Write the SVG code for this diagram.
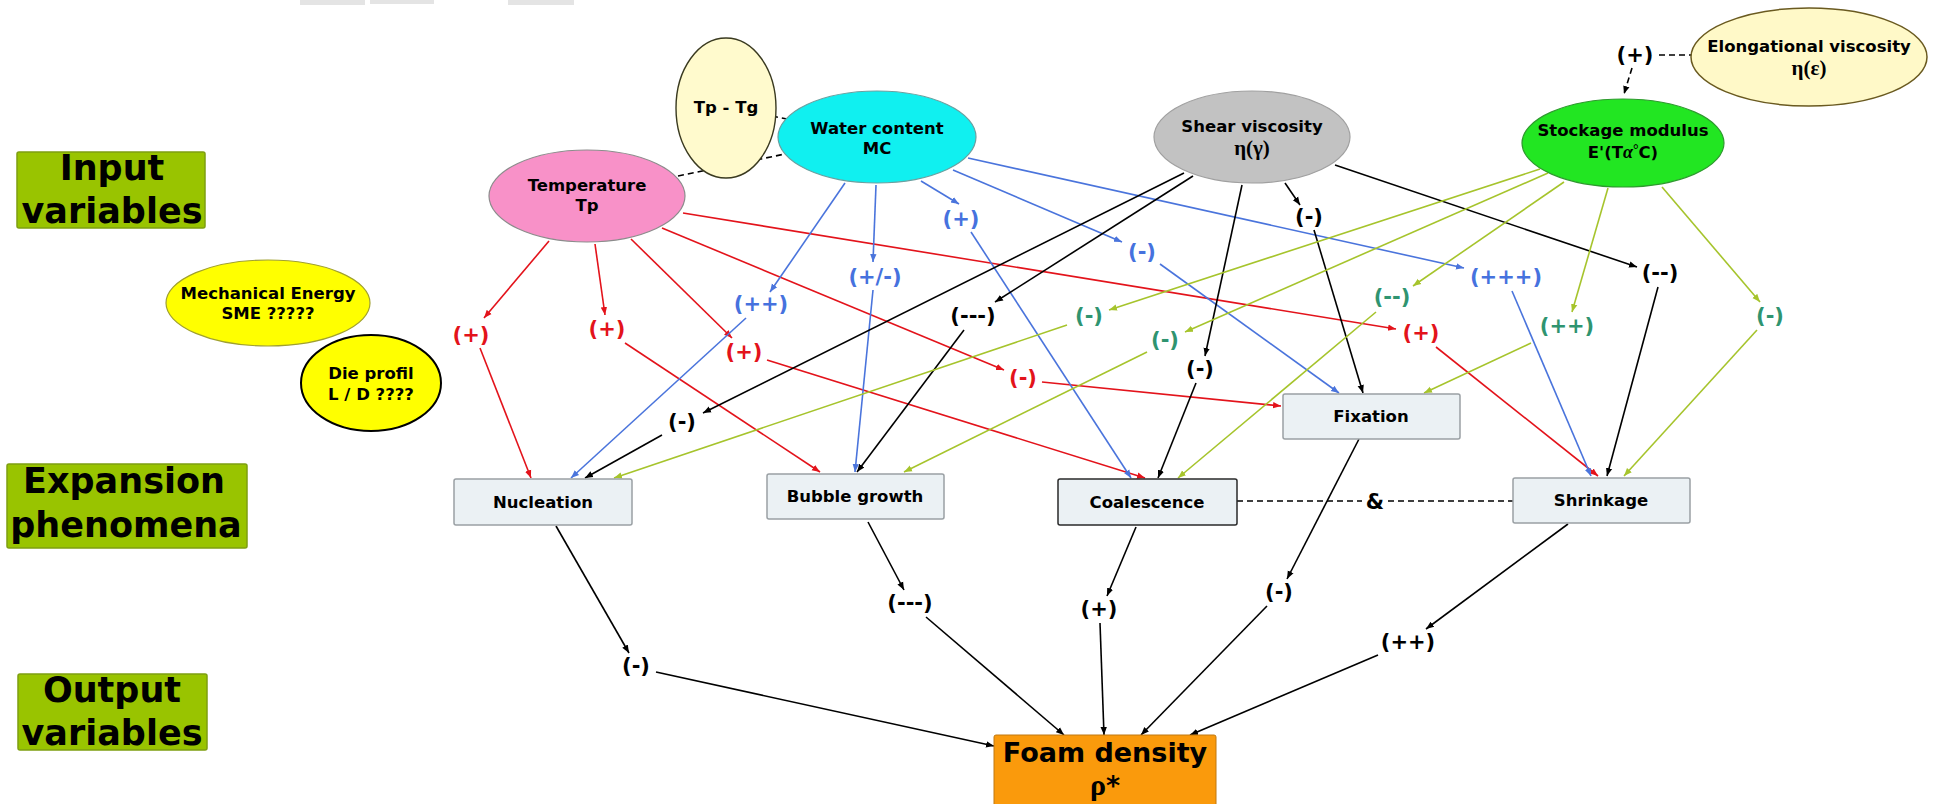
<svg xmlns="http://www.w3.org/2000/svg" width="1933" height="804" viewBox="0 0 1933 804">
<style>
text{font-family:"DejaVu Sans","Liberation Sans",sans-serif;font-weight:bold;text-anchor:middle}
.sec{font-size:35px;fill:#000}
.secbox{fill:#99C400;stroke:#7E9E10;stroke-width:1.5}
.nt{font-size:16.5px;fill:#000}
.serif{font-family:"Liberation Serif","DejaVu Serif",serif;font-weight:bold}
.eta{font-size:21px}
.box{fill:#EBF1F4;stroke:#9AA0A4;stroke-width:1.5}
.lbl{font-size:21px}
.cr{fill:#E3131B}.cb{fill:#4672DE}.ck{fill:#000}.cg{fill:#2F9470}
.r{stroke:#E3131B;stroke-width:1.6;fill:none;marker-end:url(#ar)}
.b{stroke:#4A74DC;stroke-width:1.6;fill:none;marker-end:url(#ab)}
.k{stroke:#000;stroke-width:1.6;fill:none;marker-end:url(#ak)}
.g{stroke:#A6C42C;stroke-width:1.6;fill:none;marker-end:url(#ag)}
.d{stroke:#000;stroke-width:1.6;fill:none;stroke-dasharray:6,4}
</style>
<defs>
<marker id="ar" viewBox="0 0 10 10" refX="10" refY="5" markerWidth="8" markerHeight="8" markerUnits="userSpaceOnUse" orient="auto"><path d="M0,1 L10,5 L0,9 z" fill="#E3131B"/></marker>
<marker id="ab" viewBox="0 0 10 10" refX="10" refY="5" markerWidth="8" markerHeight="8" markerUnits="userSpaceOnUse" orient="auto"><path d="M0,1 L10,5 L0,9 z" fill="#4A74DC"/></marker>
<marker id="ak" viewBox="0 0 10 10" refX="10" refY="5" markerWidth="8" markerHeight="8" markerUnits="userSpaceOnUse" orient="auto"><path d="M0,1 L10,5 L0,9 z" fill="#000"/></marker>
<marker id="ag" viewBox="0 0 10 10" refX="10" refY="5" markerWidth="8" markerHeight="8" markerUnits="userSpaceOnUse" orient="auto"><path d="M0,1 L10,5 L0,9 z" fill="#A6C42C"/></marker>
</defs>
<rect width="1933" height="804" fill="#fff"/>
<g id="topbars" fill="#E4E4E4">
<rect x="300" y="0" width="65" height="5"/><rect x="370" y="0" width="64" height="4"/><rect x="508" y="0" width="66" height="5"/>
</g>
<g id="section-labels">
<g id="input-variables"><rect class="secbox" x="17" y="152" width="188" height="76" rx="2"/><text class="sec" x="112" y="180">Input</text><text class="sec" x="112" y="223">variables</text></g>
<g id="expansion-phenomena"><rect class="secbox" x="7" y="464" width="240" height="84" rx="2"/><text class="sec" x="124" y="493">Expansion</text><text class="sec" x="126" y="537">phenomena</text></g>
<g id="output-variables"><rect class="secbox" x="18" y="674" width="189" height="76" rx="2"/><text class="sec" x="112" y="702">Output</text><text class="sec" x="112" y="745">variables</text></g>
</g>
<g id="connectors">
<line class="d" x1="678" y1="176" x2="785" y2="154"/>
<line class="d" x1="772" y1="116" x2="787" y2="119"/>
<line class="d" x1="1659" y1="55" x2="1694" y2="55"/>
<line class="d" x1="1632" y1="68" x2="1624" y2="94" marker-end="url(#ak)"/>
<line class="d" x1="1237" y1="501" x2="1362" y2="501"/>
<line class="d" x1="1388" y1="501" x2="1513" y2="501"/>
<line class="r" x1="549" y1="241" x2="484" y2="318"/><line class="r" x1="480" y1="348" x2="531" y2="478"/>
<line class="r" x1="595" y1="244" x2="605" y2="315"/><line class="r" x1="625" y1="343" x2="820" y2="472"/>
<line class="r" x1="631" y1="239" x2="732" y2="338"/><line class="r" x1="767" y1="360" x2="1145" y2="478"/>
<line class="r" x1="662" y1="228" x2="1004" y2="370"/><line class="r" x1="1042" y1="382" x2="1281" y2="406"/>
<line class="r" x1="683" y1="213" x2="1396" y2="329"/><line class="r" x1="1436" y1="347" x2="1598" y2="476"/>
<line class="b" x1="845" y1="183" x2="770" y2="292"/><line class="b" x1="746" y1="318" x2="571" y2="478"/>
<line class="b" x1="876" y1="185" x2="873" y2="262"/><line class="b" x1="873" y1="290" x2="855" y2="472"/>
<line class="b" x1="921" y1="181" x2="959" y2="204"/><line class="b" x1="971" y1="232" x2="1131" y2="478"/>
<line class="b" x1="953" y1="170" x2="1122" y2="242"/><line class="b" x1="1160" y1="264" x2="1339" y2="393"/>
<line class="b" x1="968" y1="158" x2="1464" y2="268"/><line class="b" x1="1512" y1="291" x2="1591" y2="476"/>
<line class="k" x1="1184" y1="173" x2="703" y2="413"/><line class="k" x1="662" y1="435" x2="585" y2="478"/>
<line class="k" x1="1193" y1="176" x2="995" y2="302"/><line class="k" x1="964" y1="330" x2="857" y2="472"/>
<line class="k" x1="1242" y1="185" x2="1205" y2="356"/><line class="k" x1="1196" y1="383" x2="1158" y2="478"/>
<line class="k" x1="1285" y1="183" x2="1300" y2="205"/><line class="k" x1="1314" y1="230" x2="1363" y2="393"/>
<line class="k" x1="1335" y1="165" x2="1637" y2="267"/><line class="k" x1="1658" y1="287" x2="1607" y2="476"/>
<line class="g" x1="1540" y1="169" x2="1109" y2="310"/><line class="g" x1="1067" y1="325" x2="614" y2="478"/>
<line class="g" x1="1548" y1="173" x2="1185" y2="332"/><line class="g" x1="1147" y1="352" x2="904" y2="472"/>
<line class="g" x1="1564" y1="182" x2="1413" y2="286"/><line class="g" x1="1376" y1="312" x2="1178" y2="478"/>
<line class="g" x1="1608" y1="188" x2="1572" y2="312"/><line class="g" x1="1531" y1="343" x2="1424" y2="393"/>
<line class="g" x1="1662" y1="187" x2="1760" y2="302"/><line class="g" x1="1757" y1="330" x2="1624" y2="476"/>
<line class="k" x1="556" y1="526" x2="629" y2="653"/><line class="k" x1="656" y1="672" x2="994" y2="746"/>
<line class="k" x1="868" y1="522" x2="904" y2="590"/><line class="k" x1="926" y1="617" x2="1064" y2="735"/>
<line class="k" x1="1136" y1="527" x2="1107" y2="596"/><line class="k" x1="1100" y1="623" x2="1104" y2="735"/>
<line class="k" x1="1359" y1="439" x2="1287" y2="579"/><line class="k" x1="1267" y1="606" x2="1141" y2="735"/>
<line class="k" x1="1568" y1="524" x2="1426" y2="629"/><line class="k" x1="1378" y1="655" x2="1190" y2="735"/>
<g id="connector-labels">
<text class="lbl cr" x="471" y="342">(+)</text>
<text class="lbl cr" x="607" y="336">(+)</text>
<text class="lbl cr" x="744" y="359">(+)</text>
<text class="lbl cr" x="1023" y="385">(-)</text>
<text class="lbl cr" x="1421" y="340">(+)</text>
<text class="lbl cb" x="761" y="311">(++)</text>
<text class="lbl cb" x="875" y="284">(+/-)</text>
<text class="lbl cb" x="961" y="226">(+)</text>
<text class="lbl cb" x="1142" y="259">(-)</text>
<text class="lbl cb" x="1506" y="284">(+++)</text>
<text class="lbl ck" x="682" y="429">(-)</text>
<text class="lbl ck" x="973" y="323">(---)</text>
<text class="lbl ck" x="1200" y="376">(-)</text>
<text class="lbl ck" x="1309" y="224">(-)</text>
<text class="lbl ck" x="1660" y="280">(--)</text>
<text class="lbl cg" x="1089" y="323">(-)</text>
<text class="lbl cg" x="1165" y="347">(-)</text>
<text class="lbl cg" x="1392" y="304">(--)</text>
<text class="lbl cg" x="1567" y="333">(++)</text>
<text class="lbl cg" x="1770" y="323">(-)</text>
<text class="lbl ck" x="636" y="673">(-)</text>
<text class="lbl ck" x="910" y="610">(---)</text>
<text class="lbl ck" x="1099" y="616">(+)</text>
<text class="lbl ck" x="1279" y="599">(-)</text>
<text class="lbl ck" x="1408" y="649">(++)</text>
<text class="lbl ck" x="1635" y="62">(+)</text>
<text class="lbl ck" x="1375" y="509">&amp;</text>
</g>
</g>
<g id="temperature"><ellipse cx="587" cy="196" rx="98" ry="46" fill="#F891C8" stroke="#8C8C8C" stroke-width="1.2"/><text class="nt" x="587" y="191">Temperature</text><text class="nt" x="587" y="211">Tp</text></g>
<g id="tp-tg"><ellipse cx="726" cy="108" rx="50" ry="70" fill="#FFFACD" stroke="#3A3A20" stroke-width="1.4"/><text class="nt" x="726" y="113">Tp - Tg</text></g>
<g id="water-content"><ellipse cx="877" cy="137" rx="99" ry="46" fill="#10F0F0" stroke="#6AA0A0" stroke-width="1.2"/><text class="nt" x="877" y="134">Water content</text><text class="nt" x="877" y="154">MC</text></g>
<g id="shear-viscosity"><ellipse cx="1252" cy="137" rx="98" ry="46" fill="#C2C2C2" stroke="#A0A0A0" stroke-width="1.2"/><text class="nt" x="1252" y="132">Shear viscosity</text><text class="serif eta" x="1252" y="155">η(γ)</text></g>
<g id="stockage-modulus"><ellipse cx="1623" cy="143" rx="101" ry="44" fill="#22E622" stroke="#2E9A2E" stroke-width="1.2"/><text class="nt" x="1623" y="136">Stockage modulus</text><text class="nt" x="1623" y="158">E'(T<tspan class="serif" font-style="italic" font-size="18">α</tspan><tspan class="serif" font-size="14" dy="-4">°</tspan><tspan dy="4">C)</tspan></text></g>
<g id="elongational-viscosity"><ellipse cx="1809" cy="57" rx="118" ry="49" fill="#FFF9C8" stroke="#6A5A20" stroke-width="1.5"/><text class="nt" x="1809" y="52">Elongational viscosity</text><text class="serif eta" x="1809" y="75">η(ε)</text></g>
<g id="mechanical-energy"><ellipse cx="268" cy="303" rx="102" ry="43" fill="#FFFF00" stroke="#A0A030" stroke-width="1.2"/><text class="nt" x="268" y="299">Mechanical Energy</text><text class="nt" x="268" y="319">SME ?????</text></g>
<g id="die-profil"><ellipse cx="371" cy="383" rx="70" ry="48" fill="#FFFF00" stroke="#000" stroke-width="2"/><text class="nt" x="371" y="379">Die profil</text><text class="nt" x="371" y="400">L / D ????</text></g>
<g id="nucleation"><rect class="box" x="454" y="479" width="178" height="46" rx="2"/><text class="nt" x="543" y="508">Nucleation</text></g>
<g id="bubble-growth"><rect class="box" x="767" y="474" width="177" height="45" rx="2"/><text class="nt" x="855" y="502">Bubble growth</text></g>
<g id="coalescence"><rect class="box" x="1058" y="479" width="179" height="46" rx="2" style="stroke:#2A2A2A"/><text class="nt" x="1147" y="508">Coalescence</text></g>
<g id="fixation"><rect class="box" x="1283" y="394" width="177" height="45" rx="2"/><text class="nt" x="1371" y="422">Fixation</text></g>
<g id="shrinkage"><rect class="box" x="1513" y="478" width="177" height="45" rx="2"/><text class="nt" x="1601" y="506">Shrinkage</text></g>
<g id="foam-density"><rect x="994" y="735" width="222" height="72" rx="2" fill="#FA9A0C" stroke="#C07810" stroke-width="1"/><text x="1105" y="762" font-size="27" fill="#000">Foam density</text><text x="1105" y="795" font-size="27" fill="#000"><tspan class="serif" font-size="30">ρ</tspan>*</text></g>
</svg>
